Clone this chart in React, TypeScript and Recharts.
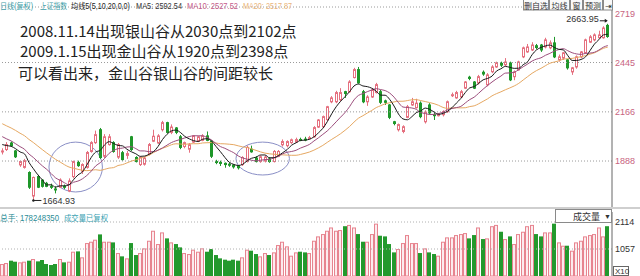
import React from 'react';
import {
  ComposedChart, Bar, Line, XAxis, YAxis, ReferenceLine, ReferenceArea, ReferenceDot,
} from 'recharts';

// closes before the first drawn day, only used to seed the moving averages
const priorCloses = [
  2230, 2210, 2190, 2200, 2170, 2160, 2150, 2140, 2140, 2130,
  2110, 2090, 2070, 2050, 2035, 2010, 1995, 1980, 1975,
];

const opens = [
  1940, 1953, 1990, 1945, 1866, 1852, 1823, 1690, 1800, 1780, 1762, 1745, 1730, 1740, 1745, 1718,
  1800, 1880, 1830, 1852, 1942, 1992, 2065, 1915, 1981, 1992, 1910, 1935, 1920, 2025, 1908, 1868,
  1870, 1925, 2000, 1990, 2065, 2105, 2050, 2075, 2025, 1970, 1955, 1995, 2000, 2005, 2030, 2000,
  1885, 1880, 1875, 1870, 1865, 1860, 1868, 1885, 1955, 1905, 1885, 1888, 1900, 1885, 1915, 1980,
  1975, 1992, 1995, 2010, 2012, 2018, 2025, 2080, 2082, 2122, 2223, 2223, 2235, 2280, 2280, 2360,
  2405, 2280, 2223, 2250, 2275, 2280, 2228, 2205, 2110, 2065, 2055, 2135, 2205, 2190, 2215, 2110,
  2205, 2150, 2148, 2150, 2167, 2258, 2245, 2250, 2300, 2362, 2335, 2330, 2390, 2319, 2393, 2420,
  2440, 2432, 2442, 2365, 2403, 2477, 2505, 2516, 2540, 2544, 2533, 2528, 2556, 2460, 2470, 2460,
  2392, 2420, 2477, 2500, 2560, 2573, 2585, 2585, 2655,
];

const closes = [
  1945, 1981, 1975, 1912, 1885, 1890, 1740, 1795, 1740, 1745, 1745, 1742, 1728, 1780, 1742, 1775,
  1885, 1862, 1868, 1936, 1992, 2037, 1908, 2025, 2025, 1942, 1981, 1896, 1930, 1953, 1885, 1908,
  1905, 1981, 2028, 2030, 2105, 2050, 2080, 2050, 1965, 1992, 1980, 2030, 2025, 2030, 2005, 1915,
  1880, 1875, 1868, 1866, 1855, 1850, 1908, 1965, 1940, 1885, 1912, 1910, 1885, 1942, 1942, 1998,
  1998, 2008, 2009, 2009, 2008, 2020, 2077, 2120, 2139, 2195, 2245, 2275, 2275, 2270, 2335, 2405,
  2330, 2223, 2250, 2290, 2320, 2220, 2220, 2135, 2100, 2094, 2082, 2195, 2223, 2215, 2139, 2165,
  2160, 2145, 2150, 2167, 2223, 2263, 2275, 2280, 2335, 2355, 2300, 2365, 2380, 2375, 2420, 2443,
  2430, 2448, 2347, 2392, 2448, 2528, 2533, 2544, 2530, 2516, 2573, 2556, 2477, 2477, 2500, 2415,
  2415, 2477, 2505, 2573, 2590, 2601, 2601, 2640, 2592,
];

const highs = [
  1960, 1995, 1998, 1950, 1890, 1900, 1830, 1800, 1810, 1785, 1770, 1760, 1745, 1790, 1755, 1790,
  1890, 1890, 1875, 1945, 2000, 2060, 2075, 2040, 2040, 2000, 1990, 1945, 1945, 2030, 1915, 1915,
  1912, 1990, 2065, 2040, 2115, 2110, 2095, 2080, 2035, 1998, 1990, 2035, 2030, 2040, 2055, 2005,
  1895, 1890, 1880, 1880, 1870, 1865, 1915, 1975, 1975, 1915, 1920, 1918, 1910, 1950, 1950, 2010,
  2005, 2015, 2020, 2020, 2025, 2030, 2085, 2125, 2145, 2200, 2255, 2285, 2300, 2285, 2345, 2415,
  2420, 2290, 2260, 2300, 2330, 2290, 2235, 2210, 2115, 2100, 2090, 2205, 2245, 2240, 2225, 2175,
  2215, 2160, 2160, 2175, 2230, 2275, 2285, 2290, 2340, 2370, 2340, 2375, 2400, 2385, 2430, 2450,
  2450, 2470, 2450, 2400, 2455, 2535, 2550, 2560, 2550, 2550, 2585, 2570, 2590, 2490, 2505, 2465,
  2420, 2485, 2510, 2580, 2600, 2610, 2625, 2650, 2663.95,
];

const lows = [
  1925, 1945, 1968, 1905, 1855, 1845, 1730, 1664.93, 1735, 1738, 1740, 1730, 1705, 1735, 1730, 1712,
  1790, 1855, 1815, 1845, 1935, 1985, 1900, 1905, 1975, 1935, 1900, 1890, 1900, 1945, 1880, 1860,
  1862, 1920, 1995, 1985, 2055, 2045, 2040, 2040, 1955, 1960, 1935, 1990, 1995, 2000, 2000, 1905,
  1870, 1860, 1850, 1855, 1845, 1840, 1860, 1880, 1935, 1880, 1878, 1880, 1878, 1880, 1910, 1970,
  1965, 1985, 1990, 2000, 2000, 2010, 2020, 2075, 2075, 2115, 2215, 2215, 2225, 2245, 2275, 2355,
  2325, 2215, 2200, 2245, 2270, 2210, 2205, 2125, 2090, 2055, 2045, 2130, 2200, 2185, 2130, 2100,
  2150, 2120, 2140, 2140, 2160, 2250, 2240, 2245, 2295, 2345, 2295, 2320, 2370, 2310, 2385, 2415,
  2420, 2425, 2340, 2345, 2400, 2470, 2500, 2510, 2520, 2505, 2525, 2520, 2470, 2450, 2460, 2405,
  2375, 2410, 2470, 2495, 2555, 2565, 2580, 2580, 2585,
];

// daily volume, axis units (x10)
const volumes = [
  469, 508, 600, 560, 534, 560, 600, 665, 573, 626, 469, 430, 469, 665, 534, 560,
  951, 964, 730, 1290, 1342, 1421, 1629, 1342, 1342, 1316, 899, 769, 691, 1290, 821, 899,
  1082, 1381, 1772, 1251, 1707, 1473, 1316, 1251, 1121, 899, 860, 1030, 951, 1082, 951, 1056,
  821, 691, 639, 600, 639, 600, 730, 1030, 991, 860, 769, 899, 821, 925, 1212, 1342,
  1160, 795, 925, 951, 925, 899, 1381, 1551, 1642, 1772, 1900, 1772, 1799, 1950, 2000, 1900,
  1642, 1342, 1342, 1642, 2050, 1577, 1551, 1251, 925, 1056, 1290, 1603, 1290, 1290, 899, 1082,
  925, 860, 795, 1342, 1512, 1512, 1603, 1642, 1681, 1473, 1603, 1900, 1446, 1473, 1950, 2000,
  1733, 1446, 1551, 1251, 1642, 1733, 1950, 2000, 1642, 1551, 1707, 1707, 2050, 1316, 1186, 1186,
  991, 1316, 1381, 1551, 1603, 1642, 1900, 1551, 1950,
];

const priceTicks = [1888, 2166, 2445, 2719];
const priceGrid = [1888, 2166, 2445, 2759];
const volumeTicks = [1057, 2114];
const lowMark = { idx: 7, value: 1664.93 };
const highMark = { idx: 136, value: 2663.95 };
const valleys = [
  { from: 11, to: 22, top: 1995, bottom: 1713 },
  { from: 53, to: 64, top: 1995, bottom: 1809 },
];

const headerItems = [
  { text: '日线(复权)', x: 0, w: 33, color: '#3d9da6' },
  { text: '上证指数', x: 40, w: 27, color: '#3d9da6' },
  { text: '均线5(5,10,20,0,0)', x: 71, w: 59, color: '#222' },
  { text: 'MA5: 2592.54', x: 136, w: 46, color: '#333' },
  { text: 'MA10: 2527.52', x: 187, w: 51, color: '#c45a8a' },
  { text: 'MA20: 2517.87', x: 243, w: 49, color: '#eab47a' },
];
const buttons = [
  { text: '删自选', x: 523, w: 26 },
  { text: '均线', x: 549, w: 21 },
  { text: '窗', x: 570, w: 13 },
  { text: '预测', x: 583, w: 20 },
  { text: '⇥', x: 603, w: 10 },
];
const notes = [
  { text: '2008.11.14出现银山谷从2030点到2102点', x: 20, y: 37 },
  { text: '2009.1.15出现金山谷从1920点到2398点', x: 20, y: 57 },
  { text: '可以看出来，金山谷银山谷的间距较长', x: 18, y: 79 },
];

const UP = '#e5707f';
const DOWN = '#1f972a';
const MA5_COLOR = '#1a1a1a';
const MA10_COLOR = '#9c4d7c';
const MA20_COLOR = '#e6a862';
const CJK = '"Noto Sans CJK SC", "Noto Sans", sans-serif';
const SMALL = '"Liberation Sans", "Noto Sans CJK SC", sans-serif';

const movingAverage = (n: number) => {
  const all = [...priorCloses, ...closes];
  return closes.map((_, i) => {
    const end = priorCloses.length + i + 1;
    const win = all.slice(end - n, end);
    return win.reduce((a, b) => a + b, 0) / win.length;
  });
};

const ma5 = movingAverage(5);
const ma10 = movingAverage(10);
const ma20 = movingAverage(20);

const data = closes.map((close, i) => ({
  idx: i,
  open: opens[i],
  close,
  high: highs[i],
  low: lows[i],
  range: [lows[i], highs[i]],
  ma5: ma5[i],
  ma10: ma10[i],
  ma20: ma20[i],
  vol: volumes[i],
}));

const CandleShape = (props: any) => {
  const { x, y, width, height, payload } = props;
  if (!payload) return null;
  const top = Math.min(y, y + height);
  const h = Math.abs(height);
  const span = payload.high - payload.low || 1;
  const toY = (v: number) => top + ((payload.high - v) / span) * h;
  const up = payload.close >= payload.open;
  const color = up ? UP : DOWN;
  const cx = Math.floor(x + width / 2) + 0.5;
  const bodyTop = toY(Math.max(payload.open, payload.close));
  const bodyBottom = toY(Math.min(payload.open, payload.close));
  return (
    <g>
      <line x1={cx} x2={cx} y1={top} y2={top + h} stroke={color} strokeWidth={1} />
      <rect
        x={cx - 1}
        y={bodyTop}
        width={2}
        height={Math.max(bodyBottom - bodyTop, 1)}
        fill={up ? '#fff' : color}
        stroke={color}
        strokeWidth={1}
      />
    </g>
  );
};

const VolumeShape = (props: any) => {
  const { x, y, width, height, payload } = props;
  if (!payload) return null;
  const up = payload.close >= payload.open;
  const left = Math.floor(x + width / 2) - 2;
  if (up) {
    return (
      <rect x={left + 0.5} y={y + 0.5} width={3} height={Math.max(height - 0.5, 0)}
        fill="#fcebee" stroke="#e7848f" strokeWidth={1} />
    );
  }
  return <rect x={left} y={y} width={4} height={height} fill="#23992d" />;
};

const ValleyShape = (props: any) => {
  const { x, y, width, height } = props;
  return (
    <ellipse cx={x + width / 2} cy={y + height / 2} rx={width / 2} ry={height / 2}
      fill="none" stroke="#8a8fc6" strokeWidth={1} />
  );
};

const LowLabel = (props: any) => {
  const { cx, cy } = props;
  return (
    <g>
      <circle cx={cx} cy={cy} r={1.2} fill="#222" />
      <line x1={cx} x2={cx + 8} y1={cy} y2={cy} stroke="#222" />
      <text x={cx + 9} y={cy + 3.5} fontSize={9} fontFamily={SMALL} fill="#333">
        {lowMark.value.toFixed(2)}
      </text>
    </g>
  );
};

const HighLabel = (props: any) => {
  const { cx, cy } = props;
  const ly = cy - 3;
  return (
    <g>
      <line x1={cx - 8} x2={cx - 1} y1={ly} y2={ly} stroke="#222" />
      <path d={`M${cx} ${ly} l-3 -2 v4 z`} fill="#222" />
      <text x={cx - 9} y={ly + 1} textAnchor="end" fontSize={9} fontFamily={SMALL} fill="#333">
        {highMark.value.toFixed(2)}
      </text>
    </g>
  );
};

export default function App() {
  return (
    <div style={{ position: 'absolute', left: 0, top: 0, width: 640, height: 276, overflow: 'hidden', background: '#fff' }}>
      <div style={{ position: 'absolute', left: 0, top: 0 }}>
        <ComposedChart width={640} height={207} data={data} margin={{ top: 7, right: 0, left: 0, bottom: 0 }}>
          <XAxis dataKey="idx" type="category" hide padding={{ left: 0, right: 2 }} />
          <YAxis
            orientation="right"
            width={28}
            domain={[1628, 2759]}
            allowDataOverflow
            ticks={priceTicks}
            interval={0}
            tickLine={false}
            tickSize={3}
            tickMargin={0}
            axisLine={{ stroke: '#666' }}
            tick={{ fontSize: 9, fill: '#c8647f', fontFamily: SMALL }}
          />
          {priceGrid.map(v => (
            <ReferenceLine key={v} y={v} stroke="#9a9a9a" strokeDasharray="1 2" />
          ))}
          <Bar dataKey="range" shape={CandleShape} isAnimationActive={false} />
          <Line type="monotone" dataKey="ma20" stroke={MA20_COLOR} dot={false} strokeWidth={1} isAnimationActive={false} />
          <Line type="monotone" dataKey="ma10" stroke={MA10_COLOR} dot={false} strokeWidth={1} isAnimationActive={false} />
          <Line type="monotone" dataKey="ma5" stroke={MA5_COLOR} dot={false} strokeWidth={1} isAnimationActive={false} />
          {valleys.map(v => (
            <ReferenceArea key={v.from} x1={v.from} x2={v.to} y1={v.bottom} y2={v.top} shape={ValleyShape} />
          ))}
          <ReferenceDot x={lowMark.idx} y={lowMark.value} r={0} shape={LowLabel} />
          <ReferenceDot x={highMark.idx} y={highMark.value} r={0} shape={HighLabel} />
        </ComposedChart>
      </div>

      <div style={{ position: 'absolute', left: 0, top: 207, width: 640, height: 2, background: '#cfcfcf' }} />

      <div style={{ position: 'absolute', left: 0, top: 210 }}>
        <ComposedChart width={640} height={66} data={data} margin={{ top: 2, right: 0, left: 0, bottom: 0 }}>
          <XAxis dataKey="idx" type="category" hide padding={{ left: 0, right: 2 }} />
          <YAxis
            orientation="right"
            width={28}
            domain={[0, 2506]}
            allowDataOverflow
            ticks={volumeTicks}
            interval={0}
            tickLine={false}
            tickSize={3}
            tickMargin={0}
            axisLine={{ stroke: '#666' }}
            tick={{ fontSize: 9, fill: '#333', fontFamily: SMALL }}
          />
          {volumeTicks.map(v => (
            <ReferenceLine key={v} y={v} stroke="#b0b0b0" strokeDasharray="1 2" />
          ))}
          <Bar dataKey="vol" shape={VolumeShape} isAnimationActive={false} />
        </ComposedChart>
      </div>

      <svg width={640} height={276} style={{ position: 'absolute', left: 0, top: 0, pointerEvents: 'none' }}>
        {headerItems.map(h => (
          <text key={h.text} x={h.x} y={8.5} fontSize={8.5} fontFamily={SMALL} fill={h.color}
            textLength={h.w} lengthAdjust="spacingAndGlyphs">
            {h.text}
          </text>
        ))}
        {buttons.map(b => (
          <g key={b.text}>
            <rect x={b.x + 0.5} y={-1} width={b.w - 1} height={11} fill="#fafafa" stroke="#8a8a8a" />
            <text x={b.x + b.w / 2} y={8.5} textAnchor="middle" fontSize={8} fontFamily={CJK} fill="#333">
              {b.text}
            </text>
          </g>
        ))}
        {notes.map(n => (
          <text key={n.text} x={n.x} y={n.y} fontSize={15} fontFamily={CJK} fill="#222">
            {n.text}
          </text>
        ))}
        <text x={0} y={220.5} fontSize={8.5} fontFamily={SMALL} fill="#2a8c96"
          textLength={59} lengthAdjust="spacingAndGlyphs">总手: 178248350</text>
        <text x={64} y={220.5} fontSize={8.5} fontFamily={SMALL} fill="#3aa2b2"
          textLength={44} lengthAdjust="spacingAndGlyphs">成交量已复权</text>
        <rect x={555.5} y={209.5} width={56} height={13} fill="#fff" stroke="#8a8a8a" />
        <text x={573} y={219.5} fontSize={9} fontFamily={CJK} fill="#333">成交量</text>
        <text x={604} y={219} fontSize={7} fontFamily={SMALL} fill="#333">▼</text>
        <rect x={613.5} y={266.5} width={15} height={9} fill="#fff" stroke="#666" />
        <text x={615} y={274} fontSize={8} fontFamily={SMALL} fill="#333">X10</text>
      </svg>
    </div>
  );
}
